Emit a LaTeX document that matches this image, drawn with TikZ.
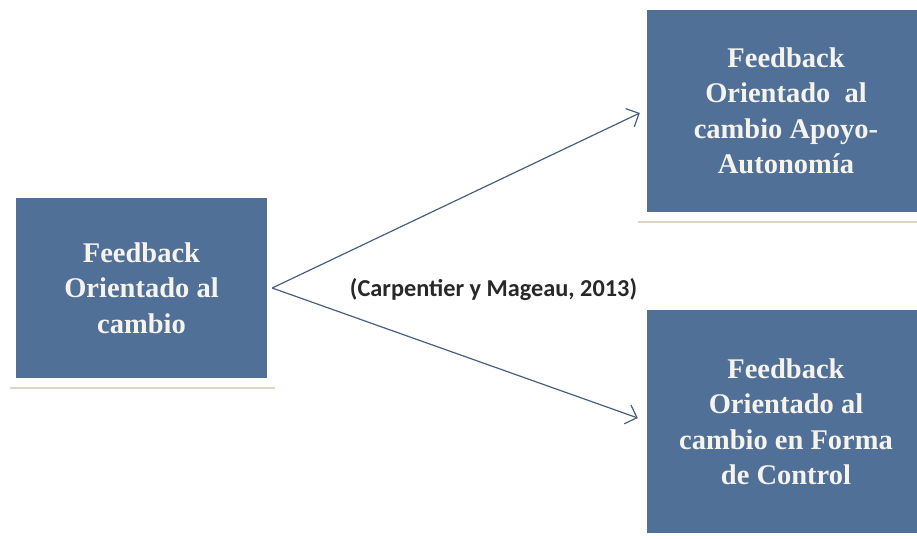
\documentclass[tikz,border=0pt]{standalone}
\usepackage{fontspec}
\setmainfont{Liberation Serif}
\newfontfamily\citefont{Carlito}
\usetikzlibrary{arrows.meta}
\definecolor{boxblue}{RGB}{80,112,151}
\definecolor{boxtext}{RGB}{245,243,236}
\definecolor{arrowgray}{RGB}{72,96,126}
\definecolor{shadowtan}{RGB}{226,212,196}
\definecolor{citegray}{RGB}{40,40,40}
\begin{document}
\begin{tikzpicture}[x=1pt,y=-1pt,
  fbbox/.style={fill=boxblue, draw=none, text=boxtext, align=center,
    inner sep=0pt, font=\fontsize{28.5}{35.5}\selectfont\bfseries},
  baseline shadow/.style={draw=shadowtan, line width=2.5pt},
  branch/.style={draw=arrowgray, line width=1.2pt,
    -{Straight Barb[length=10pt,width=20pt,line width=1.2pt]}},
  citelabel/.style={text=citegray, font=\citefont\fontsize{24.3}{28}\selectfont\bfseries}]
  \useasboundingbox (0,0) rectangle (917,539);
  \clip (0,0) rectangle (917,539);
  \fill[white] (0,0) rectangle (917,539);

  % faint lines under the boxes
  \draw[baseline shadow] (10,388) -- (275,388);
  \draw[baseline shadow] (638,222) -- (917,222);

  % boxes
  \node[fbbox, minimum width=251pt, minimum height=180pt] (src) at (141.5,288)
    {Feedback\\Orientado al\\cambio};
  \node[fbbox, minimum width=278pt, minimum height=202pt] (auto) at (786,111)
    {Feedback\\Orientado\ \ al\\cambio Apoyo-\\Autonomía};
  \node[fbbox, minimum width=278pt, minimum height=223pt] (ctrl) at (786,421.5)
    {Feedback\\Orientado al\\cambio en Forma\\de Control};

  % branching arrows
  \coordinate (fork) at ([xshift=5pt]src.east);
  \draw[branch] (fork) -- ([xshift=-7pt,yshift=-2pt]auto.west);
  \draw[branch] (fork) -- ([xshift=-9pt,yshift=3.5pt]ctrl.west);

  % citation
  \node[citelabel] (cite) at (493.5,290) {(Carpentier y Mageau, 2013)};
\end{tikzpicture}
\end{document}
